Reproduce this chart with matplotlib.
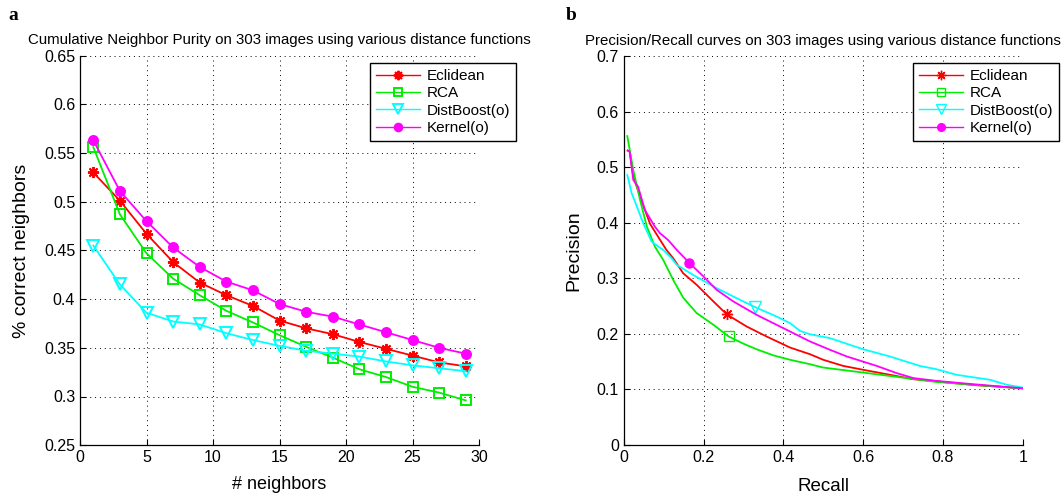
import numpy as np
import matplotlib
matplotlib.use("Agg")
import matplotlib.pyplot as plt
from matplotlib.ticker import FuncFormatter, MultipleLocator

plt.rcParams['font.family'] = ['Liberation Sans', 'DejaVu Sans']

# ---- panel a: cumulative neighbor purity ----
neighbors = [1, 3, 5, 7, 9, 11, 13, 15, 17, 19, 21, 23, 25, 27, 29]
purity_euclid = [0.530, 0.501, 0.467, 0.438, 0.417, 0.404, 0.393, 0.378, 0.370, 0.364,
                 0.356, 0.349, 0.342, 0.335, 0.331]
purity_rca = [0.556, 0.487, 0.447, 0.421, 0.404, 0.388, 0.376, 0.363, 0.351, 0.340,
              0.328, 0.320, 0.310, 0.304, 0.296]
purity_distboost = [0.455, 0.415, 0.386, 0.377, 0.374, 0.365, 0.358, 0.352, 0.347, 0.344,
                    0.341, 0.336, 0.332, 0.329, 0.326]
purity_kernel = [0.563, 0.511, 0.480, 0.453, 0.433, 0.418, 0.409, 0.395, 0.387, 0.382,
                 0.374, 0.366, 0.358, 0.350, 0.344]

# ---- panel b: precision / recall ----
rec_euclid = [0.010, 0.015, 0.024, 0.044, 0.066, 0.086, 0.107, 0.124, 0.149, 0.183, 0.225,
              0.258, 0.308, 0.358, 0.417, 0.467, 0.500, 0.550, 0.600, 0.667, 0.726, 0.793,
              0.876, 1.000]
prec_euclid = [0.530, 0.528, 0.483, 0.441, 0.398, 0.375, 0.351, 0.336, 0.309, 0.288, 0.258,
               0.235, 0.213, 0.195, 0.175, 0.163, 0.153, 0.142, 0.135, 0.126, 0.118, 0.1135,
               0.1076, 0.1016]
rec_rca = [0.009, 0.024, 0.041, 0.058, 0.078, 0.099, 0.124, 0.149, 0.183, 0.225, 0.263,
           0.300, 0.333, 0.375, 0.417, 0.467, 0.500, 0.600, 0.709, 0.784, 0.910, 1.000]
prec_rca = [0.556, 0.495, 0.441, 0.393, 0.357, 0.333, 0.297, 0.265, 0.237, 0.216, 0.195,
            0.182, 0.172, 0.161, 0.153, 0.145, 0.139, 0.130, 0.120, 0.113, 0.106, 0.1016]
rec_distboost = [0.009, 0.020, 0.033, 0.049, 0.070, 0.085, 0.099, 0.120, 0.133, 0.174, 0.233,
                 0.283, 0.329, 0.383, 0.417, 0.442, 0.467, 0.517, 0.550, 0.600, 0.667, 0.742,
                 0.784, 0.834, 0.918, 0.960, 1.000]
prec_distboost = [0.486, 0.453, 0.429, 0.399, 0.366, 0.358, 0.351, 0.336, 0.324, 0.306, 0.282,
                  0.264, 0.248, 0.231, 0.219, 0.205, 0.199, 0.192, 0.184, 0.172, 0.159, 0.142,
                  0.136, 0.126, 0.117, 0.108, 0.103]
rec_kernel = [0.010, 0.015, 0.024, 0.036, 0.053, 0.078, 0.091, 0.111, 0.133, 0.164, 0.200,
              0.233, 0.275, 0.333, 0.400, 0.467, 0.517, 0.559, 0.634, 0.684, 0.726, 0.784,
              0.876, 1.000]
prec_kernel = [0.530, 0.528, 0.477, 0.465, 0.423, 0.393, 0.381, 0.369, 0.351, 0.328, 0.303,
               0.279, 0.258, 0.234, 0.210, 0.186, 0.171, 0.159, 0.142, 0.129, 0.120, 0.115,
               0.109, 0.1016]
# index of the single marker drawn on each PR curve
mark_idx = {'Eclidean': 11, 'RCA': 10, 'DistBoost(o)': 12, 'Kernel(o)': 9}

labels = ['Eclidean', 'RCA', 'DistBoost(o)', 'Kernel(o)']
colors = ['#ff0000', '#00ee00', '#00ffff', '#ff00ff']
markers = [(8, 2, 0), 's', 'v', 'o']
mfc = ['#ff0000', 'none', 'none', '#ff00ff']
msize = [8, 7, 8, 6.5]


def fmt(v, pos):
    return '%g' % round(v, 3)


def style_axes(ax):
    ax.grid(True, linestyle=(0, (1, 4)), color='black', linewidth=0.7)
    for s in ['top', 'right']:
        ax.spines[s].set_visible(False)
    for s in ['left', 'bottom']:
        ax.spines[s].set_linewidth(0.9)
    ax.tick_params(direction='in', length=4, width=0.8, labelsize=11.5)
    ax.yaxis.set_major_formatter(FuncFormatter(fmt))
    ax.xaxis.set_major_formatter(FuncFormatter(fmt))


def add_legend(ax, x_px):
    leg = ax.legend(loc='upper left', bbox_to_anchor=(x_px / W, 1 - 63 / H),
                    bbox_transform=fig.transFigure, fontsize=11, frameon=True,
                    fancybox=False, edgecolor='black', framealpha=1, handlelength=2.9,
                    borderpad=0.4, labelspacing=0.22, handletextpad=0.4,
                    borderaxespad=0, markerscale=0.85)
    leg.get_frame().set_linewidth(1.0)
    for line in leg.get_lines():
        line.set_linewidth(1.0)


fig = plt.figure(figsize=(10.62, 5.0), dpi=100)
W, H = 1062.0, 500.0
ax1 = fig.add_axes([80 / W, 1 - 445.2 / H, 399 / W, 389.6 / H])
ax2 = fig.add_axes([623.7 / W, 1 - 444.7 / H, 399 / W, 388.5 / H])

series_a = [purity_euclid, purity_rca, purity_distboost, purity_kernel]
for lab, col, mk, fc, ms, ys in zip(labels, colors, markers, mfc, msize, series_a):
    ax1.plot(neighbors, ys, color=col, linewidth=1.3, marker=mk, markersize=ms,
             markerfacecolor=fc, markeredgecolor=col, markeredgewidth=1.4, label=lab)

ax1.set_xlim(0, 30)
ax1.set_ylim(0.25, 0.65)
ax1.xaxis.set_major_locator(MultipleLocator(5))
ax1.yaxis.set_major_locator(MultipleLocator(0.05))
style_axes(ax1)
ax1.set_title('Cumulative Neighbor Purity on 303 images using various distance functions',
              fontsize=10.8, pad=8)
ax1.set_xlabel('# neighbors', fontsize=13, labelpad=8)
ax1.set_ylabel('% correct neighbors', fontsize=14, labelpad=10)
add_legend(ax1, 370)

series_b = [(rec_euclid, prec_euclid), (rec_rca, prec_rca),
            (rec_distboost, prec_distboost), (rec_kernel, prec_kernel)]
for lab, col, mk, fc, ms, (xs, ys) in zip(labels, colors, markers, mfc, msize, series_b):
    ax2.plot(xs, ys, color=col, linewidth=1.3, marker=mk, markersize=ms,
             markerfacecolor=fc, markeredgecolor=col, markeredgewidth=1.0,
             markevery=[mark_idx[lab]], label=lab)

ax2.set_xlim(0, 1)
ax2.set_ylim(0, 0.7)
ax2.xaxis.set_major_locator(MultipleLocator(0.2))
ax2.yaxis.set_major_locator(MultipleLocator(0.1))
style_axes(ax2)
ax2.set_title('Precision/Recall curves on 303 images using various distance functions',
              fontsize=10.8, pad=8)
ax2.set_xlabel('Recall', fontsize=13.5, labelpad=10)
ax2.set_ylabel('Precision', fontsize=14, labelpad=10)
add_legend(ax2, 913)

fig.text(8 / W, 1 - 20 / H, 'a', fontsize=14, fontweight='bold', family='Liberation Serif')
fig.text(566 / W, 1 - 20 / H, 'b', fontsize=14, fontweight='bold', family='Liberation Serif')

fig.savefig('out.png', dpi=100)
